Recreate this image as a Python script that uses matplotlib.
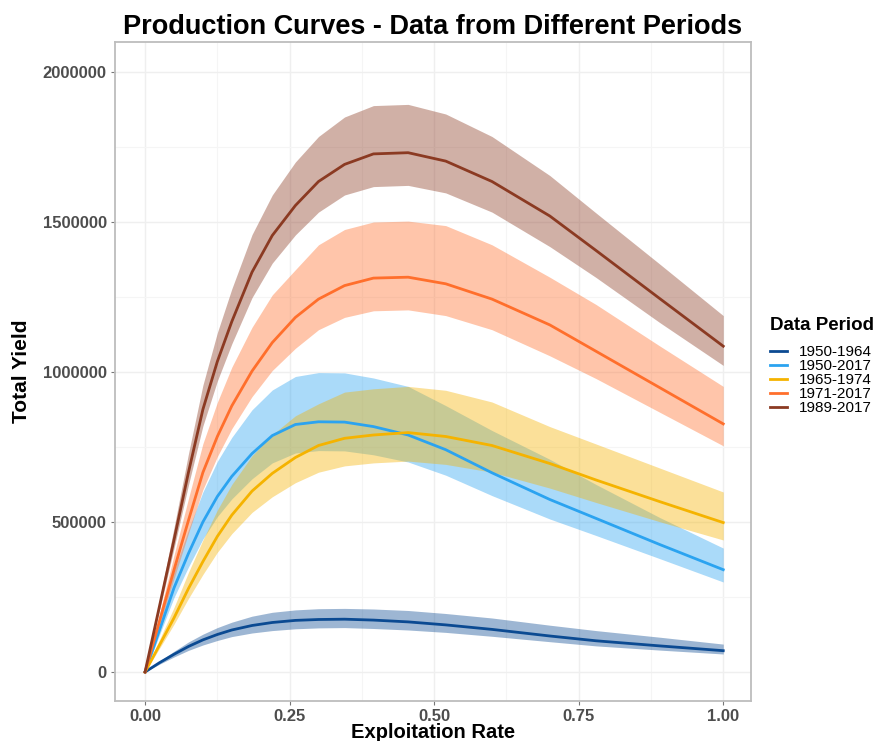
import numpy as np
import matplotlib
matplotlib.use("Agg")
import matplotlib.pyplot as plt
from matplotlib.ticker import FuncFormatter, MultipleLocator

plt.rcParams['font.family'] = ['Liberation Sans', 'DejaVu Sans']

# exploitation rates the curves were evaluated at
rate = [0, 0.025, 0.05, 0.075, 0.1, 0.125, 0.15, 0.185, 0.22, 0.26, 0.30,
        0.345, 0.395, 0.455, 0.52, 0.60, 0.70, 0.78, 0.89, 1.0]

periods = ['1950-1964', '1950-2017', '1965-1974', '1971-2017', '1989-2017']
colors = ['#0B4A92', '#2BA3F0', '#F5B300', '#FF6F2C', '#8B3A22']

# total yield (millions): fitted curve and its lower/upper bounds
yield_1950_1964 = [0, 0.031, 0.059, 0.085, 0.107, 0.125, 0.14, 0.155, 0.165, 0.172, 0.175,
                   0.176, 0.173, 0.167, 0.157, 0.142, 0.12, 0.104, 0.087, 0.071]
lo_1950_1964 = [0, 0.026, 0.05, 0.072, 0.09, 0.105, 0.118, 0.13, 0.138, 0.144, 0.147,
                0.148, 0.145, 0.14, 0.132, 0.119, 0.101, 0.087, 0.073, 0.06]
hi_1950_1964 = [0, 0.036, 0.069, 0.1, 0.126, 0.148, 0.166, 0.186, 0.199, 0.207, 0.211,
                0.212, 0.21, 0.205, 0.195, 0.18, 0.156, 0.138, 0.116, 0.093]

yield_1950_2017 = [0, 0.14, 0.28, 0.395, 0.5, 0.585, 0.652, 0.728, 0.788, 0.825, 0.834,
                   0.833, 0.818, 0.79, 0.741, 0.664, 0.575, 0.512, 0.425, 0.341]
lo_1950_2017 = [0, 0.124, 0.248, 0.35, 0.443, 0.518, 0.577, 0.644, 0.697, 0.73, 0.738,
                0.737, 0.724, 0.70, 0.656, 0.588, 0.51, 0.455, 0.378, 0.30]
hi_1950_2017 = [0, 0.168, 0.336, 0.474, 0.6, 0.702, 0.782, 0.874, 0.94, 0.985, 0.998,
                0.997, 0.98, 0.952, 0.888, 0.805, 0.709, 0.625, 0.515, 0.413]

yield_1965_1974 = [0, 0.09, 0.18, 0.278, 0.368, 0.452, 0.523, 0.603, 0.662, 0.715, 0.755,
                   0.779, 0.79, 0.798, 0.785, 0.755, 0.695, 0.64, 0.568, 0.498]
lo_1965_1974 = [0, 0.079, 0.159, 0.245, 0.325, 0.399, 0.461, 0.532, 0.584, 0.631, 0.666,
                0.687, 0.697, 0.703, 0.692, 0.666, 0.613, 0.565, 0.501, 0.44]
hi_1965_1974 = [0, 0.108, 0.215, 0.332, 0.44, 0.54, 0.625, 0.721, 0.791, 0.854, 0.894,
                0.933, 0.944, 0.952, 0.939, 0.90, 0.818, 0.76, 0.68, 0.60]

yield_1971_2017 = [0, 0.17, 0.34, 0.505, 0.665, 0.785, 0.887, 1.003, 1.098, 1.182, 1.243,
                   1.288, 1.313, 1.316, 1.294, 1.243, 1.157, 1.069, 0.948, 0.827]
lo_1971_2017 = [0, 0.155, 0.311, 0.462, 0.608, 0.718, 0.811, 0.918, 1.005, 1.079, 1.141,
                1.182, 1.204, 1.207, 1.188, 1.141, 1.054, 0.978, 0.866, 0.754]
hi_1971_2017 = [0, 0.195, 0.389, 0.578, 0.761, 0.899, 1.016, 1.149, 1.257, 1.341, 1.424,
                1.475, 1.50, 1.503, 1.488, 1.424, 1.316, 1.225, 1.087, 0.952]

yield_1989_2017 = [0, 0.22, 0.44, 0.665, 0.875, 1.035, 1.168, 1.333, 1.455, 1.555, 1.635,
                   1.692, 1.727, 1.731, 1.703, 1.635, 1.52, 1.405, 1.245, 1.086]
lo_1989_2017 = [0, 0.206, 0.412, 0.623, 0.82, 0.97, 1.094, 1.248, 1.363, 1.457, 1.533,
                1.59, 1.618, 1.622, 1.597, 1.533, 1.418, 1.315, 1.165, 1.022]
hi_1989_2017 = [0, 0.24, 0.481, 0.727, 0.956, 1.131, 1.277, 1.458, 1.59, 1.70, 1.785,
                1.85, 1.888, 1.892, 1.86, 1.785, 1.655, 1.53, 1.36, 1.188]

means = [yield_1950_1964, yield_1950_2017, yield_1965_1974, yield_1971_2017, yield_1989_2017]
lows = [lo_1950_1964, lo_1950_2017, lo_1965_1974, lo_1971_2017, lo_1989_2017]
highs = [hi_1950_1964, hi_1950_2017, hi_1965_1974, hi_1971_2017, hi_1989_2017]

fig = plt.figure(figsize=(8.9, 7.41), dpi=100)
ax = fig.add_axes([115 / 890, 1 - 701 / 741, 636 / 890, 659 / 741])

# ribbons first, then the curves on top
for lo, hi, c in zip(lows, highs, colors):
    ax.fill_between(rate, np.array(lo) * 1e6, np.array(hi) * 1e6,
                    color=c, alpha=0.4, linewidth=0)
for m, c, p in zip(means, colors, periods):
    ax.plot(rate, np.array(m) * 1e6, color=c, linewidth=2.0, label=p)

ax.set_xlim(-0.052, 1.048)
ax.set_ylim(-96700, 2100000)
ax.xaxis.set_major_locator(MultipleLocator(0.25))
ax.xaxis.set_minor_locator(MultipleLocator(0.125))
ax.yaxis.set_major_locator(MultipleLocator(500000))
ax.yaxis.set_minor_locator(MultipleLocator(250000))
ax.xaxis.set_major_formatter(FuncFormatter(lambda v, _: f'{v:.2f}'))
ax.yaxis.set_major_formatter(FuncFormatter(lambda v, _: f'{v:.0f}'))

ax.grid(which='major', color='#EFEFEF', linewidth=1.0)
ax.grid(which='minor', color='#F5F5F5', linewidth=0.8)
ax.set_axisbelow(True)
for s in ax.spines.values():
    s.set_color('#BDBDBD')
    s.set_linewidth(1.3)
ax.tick_params(which='major', length=3, color='#777777', width=0.8,
               labelsize=12, labelcolor='#4D4D4D', pad=3)
ax.tick_params(which='minor', length=0)
for lab in ax.get_xticklabels() + ax.get_yticklabels():
    lab.set_fontweight('bold')

ax.set_xlabel('Exploitation Rate', fontsize=14.5, fontweight='bold', labelpad=-1)
ax.set_ylabel('Total Yield', fontsize=15, fontweight='bold', labelpad=8)
ax.set_title('Production Curves - Data from Different Periods',
             fontsize=19.5, fontweight='bold', pad=6)

leg = fig.legend(loc='center left', bbox_to_anchor=(764 / 890, 1 - 366 / 741),
                 frameon=False, title='Data Period', fontsize=11,
                 handlelength=1.1, handletextpad=0.8, labelspacing=0.0,
                 borderaxespad=0)
leg.get_title().set_fontweight('bold')
leg.get_title().set_fontsize(13.5)
leg._legend_box.align = 'left'
leg._legend_box.sep = 8

fig.savefig('out.png', dpi=100)
